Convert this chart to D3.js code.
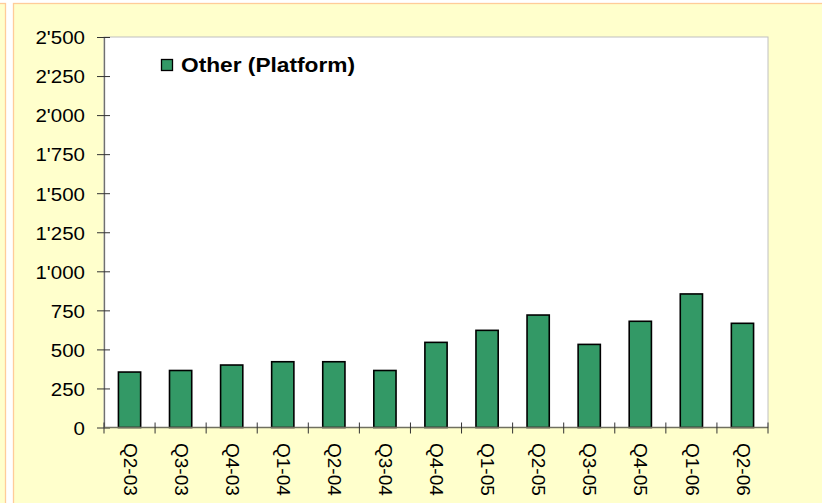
<!DOCTYPE html>
<html>
<head>
<meta charset="utf-8">
<script src="https://cdn.jsdelivr.net/npm/d3@7"></script>
<style>
html,body{margin:0;padding:0;background:#fff;}
svg{display:block;}
</style>
</head>
<body>
<svg id="chart" width="822" height="503"></svg>
<script>
const categories = ["Q2-03","Q3-03","Q4-03","Q1-04","Q2-04","Q3-04","Q4-04","Q1-05","Q2-05","Q3-05","Q4-05","Q1-06","Q2-06"];
const values = [355, 365, 400, 421, 421, 365, 545, 622, 720, 532, 680, 855, 667];
const yTicks = [0, 250, 500, 750, 1000, 1250, 1500, 1750, 2000, 2250, 2500];
const seriesName = "Other (Platform)";

const svg = d3.select("#chart");
const W = 822, H = 503;
const m = {left: 104, top: 37, right: 768, bottom: 427.5};
const font = "Arial, 'Liberation Sans', sans-serif";

// panels
svg.append("rect").attr("x", -10).attr("y", 3.5).attr("width", 15.5).attr("height", H + 10)
  .attr("fill", "#FFFFCC").attr("stroke", "#FFCC99").attr("stroke-width", 1.3);
svg.append("rect").attr("x", 13.5).attr("y", 3.5).attr("width", W).attr("height", H + 10)
  .attr("fill", "#FFFFCC").attr("stroke", "#FFCC99").attr("stroke-width", 1.3);

const x = d3.scaleBand().domain(categories).range([m.left, m.right]).paddingInner(0.565).paddingOuter(0.2825);
const xBand = d3.scaleBand().domain(categories).range([m.left, m.right]).padding(0);
const y = d3.scaleLinear().domain([0, 2500]).range([m.bottom, m.top]);

// plot area
svg.append("rect").attr("x", m.left).attr("y", y(2500)).attr("width", m.right - m.left).attr("height", m.bottom - y(2500))
  .attr("fill", "#fff").attr("stroke", "#C0C0C0").attr("stroke-width", 1);

// bars
svg.append("g").selectAll("rect").data(values).join("rect")
  .attr("x", (d, i) => x(categories[i]))
  .attr("y", d => y(d))
  .attr("width", x.bandwidth())
  .attr("height", d => y(0) - y(d))
  .attr("fill", "#339966")
  .attr("stroke", "#000")
  .attr("stroke-width", 1.6);

// y axis
const yAxis = d3.axisLeft(y).tickValues(yTicks)
  .tickFormat(d => d3.format(",")(d).replace(/,/g, "'"))
  .tickSizeInner(7).tickSizeOuter(0).tickPadding(11);
const gy = svg.append("g").attr("transform", `translate(${m.left},0)`).call(yAxis);
gy.select(".domain").attr("stroke", "#707070").attr("stroke-width", 1.3);
gy.selectAll(".tick line").attr("x2", -7).attr("x1", 6).attr("stroke", "#333");
gy.selectAll("text").attr("font-family", font).attr("font-size", 19).attr("fill", "#000").attr("dy", "0.36em")
  .attr("x", -19 / 1.08).attr("transform", "scale(1.08,1)");

// x axis
const gx = svg.append("g").attr("transform", `translate(0,${m.bottom})`);
gx.append("line").attr("x1", m.left).attr("x2", m.right).attr("stroke", "#707060").attr("stroke-width", 1.3);
const bounds = categories.map(c => xBand(c)).concat([m.right]);
gx.selectAll("line.tk").data(bounds).join("line").attr("class", "tk")
  .attr("x1", d => d).attr("x2", d => d).attr("y1", -5).attr("y2", 6)
  .attr("stroke", "#333").attr("stroke-width", 1);
gx.selectAll("text").data(categories).join("text")
  .attr("transform", d => `translate(${xBand(d) + xBand.bandwidth() / 2 + 1},${15.5}) rotate(90)`)
  .attr("dy", "0.36em")
  .attr("font-family", font).attr("font-size", 19).attr("fill", "#000")
  .text(d => d);

// legend
const lg = svg.append("g");
lg.append("rect").attr("x", 161.5).attr("y", 59.5).attr("width", 11).attr("height", 11)
  .attr("fill", "#339966").attr("stroke", "#000").attr("stroke-width", 1.3);
lg.append("text").attr("x", 181).attr("y", 71.5)
  .attr("font-family", font).attr("font-size", 20).attr("font-weight", "bold").attr("fill", "#000")
  .attr("textLength", 174).attr("lengthAdjust", "spacingAndGlyphs")
  .text(seriesName);
</script>
</body>
</html>
